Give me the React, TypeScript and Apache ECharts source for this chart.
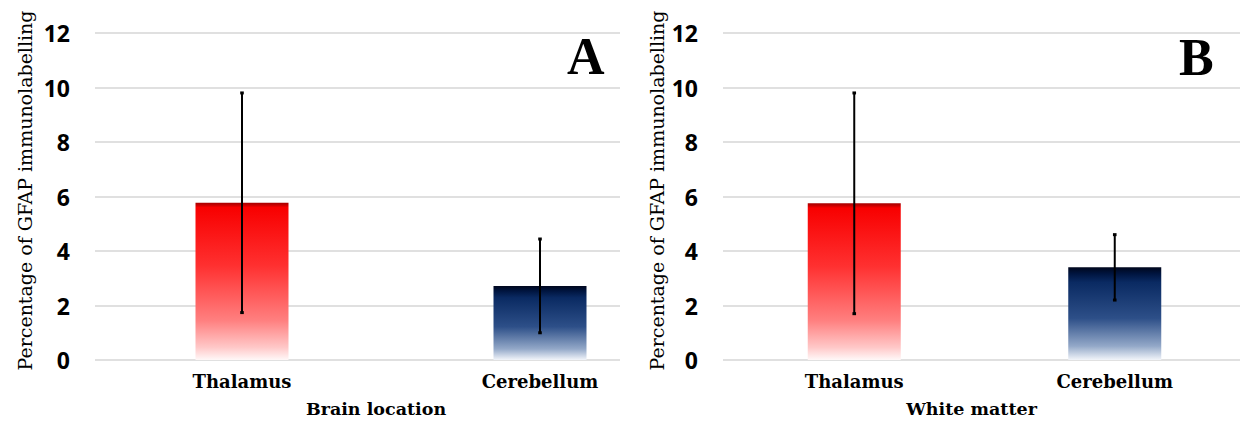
import React, { useEffect, useRef } from "react";
import * as echarts from "echarts";

const categories = ["Thalamus", "Cerebellum"];
const brainMeans = [5.77, 2.72];
const brainSD = [4.03, 1.72];
const whiteMeans = [5.75, 3.4];
const whiteSD = [4.05, 1.2];
const yTicks = { min: 0, max: 12, interval: 2 };
const panelLetters = ["A", "B"];
const xTitles = ["Brain location", "White matter"];
const yTitle = "Percentage of GFAP immunolabelling";

const redGrad = () =>
  new echarts.graphic.LinearGradient(0, 0, 0, 1, [
    { offset: 0, color: "#a80000" },
    { offset: 0.012, color: "#c00000" },
    { offset: 0.03, color: "#f80000" },
    { offset: 0.4, color: "#ff3030" },
    { offset: 0.75, color: "#ff8080" },
    { offset: 0.92, color: "#ffc8c8" },
    { offset: 1, color: "#fff8f8" },
  ]);
const blueGrad = () =>
  new echarts.graphic.LinearGradient(0, 0, 0, 1, [
    { offset: 0, color: "#00061c" },
    { offset: 0.07, color: "#001540" },
    { offset: 0.16, color: "#0a2a62" },
    { offset: 0.55, color: "#2d4f88" },
    { offset: 0.85, color: "#93a8c8" },
    { offset: 1, color: "#f2f5fa" },
  ]);

export default function App() {
  const ref = useRef<HTMLDivElement>(null);
  useEffect(() => {
    if (!ref.current) return;
    const chart = echarts.init(ref.current, undefined, { renderer: "svg" });
    const fills = [redGrad, blueGrad];
    const gridTop = 33;
    const gridH = 327;

    const yLabel = {
      fontFamily: "Open Sans",
      fontWeight: "bold" as const,
      fontSize: 23,
      color: "#000",
      margin: 25,
    };
    const catLabel = {
      fontFamily: "DejaVu Serif",
      fontWeight: "bold" as const,
      fontSize: 18,
      color: "#000",
      margin: 12,
    };
    const split = { show: true, lineStyle: { color: "#d6d6d6", width: 1.6 } };

    const errRender = (params: any, api: any) => {
      const x = api.value(0);
      const lo = api.coord([x, api.value(1)]);
      const hi = api.coord([x, api.value(2)]);
      const cap = 1.8;
      const st = { stroke: "#000", lineWidth: 2 };
      return {
        type: "group",
        children: [
          { type: "line", shape: { x1: lo[0], y1: lo[1], x2: hi[0], y2: hi[1] }, style: st },
          { type: "line", shape: { x1: lo[0] - cap, y1: lo[1], x2: lo[0] + cap, y2: lo[1] }, style: { stroke: "#000", lineWidth: 3 } },
          { type: "line", shape: { x1: hi[0] - cap, y1: hi[1], x2: hi[0] + cap, y2: hi[1] }, style: { stroke: "#000", lineWidth: 3 } },
        ],
      };
    };

    const panels = [
      { means: brainMeans, sd: brainSD, bgLeft: 95, bgW: 525, barLeft: 93, barW: 596, nameGapY: 61, namePad: [0, 30, 0, 0] },
      { means: whiteMeans, sd: whiteSD, bgLeft: 723, bgW: 517, barLeft: 724, barW: 594, nameGapY: 57, namePad: [0, 26, 0, 0] },
    ];

    const grid: any[] = [];
    const xAxis: any[] = [];
    const yAxis: any[] = [];
    const series: any[] = [];

    panels.forEach((p, i) => {
      const bgIdx = i * 2;
      const barIdx = i * 2 + 1;
      grid.push({ left: p.bgLeft, width: p.bgW, top: gridTop, height: gridH });
      grid.push({ left: p.barLeft, width: p.barW, top: gridTop, height: gridH });
      xAxis.push({ type: "category", gridIndex: bgIdx, data: categories, show: false });
      xAxis.push({
        type: "category",
        gridIndex: barIdx,
        data: categories,
        axisLine: { show: false },
        axisTick: { show: false },
        axisLabel: catLabel,
        name: xTitles[i],
        nameLocation: "middle",
        nameGap: 40,
        nameTextStyle: {
          fontFamily: "DejaVu Serif",
          fontWeight: "bold",
          fontSize: 17.5,
          color: "#000",
          padding: p.namePad,
        },
      });
      yAxis.push({
        type: "value",
        gridIndex: bgIdx,
        min: yTicks.min,
        max: yTicks.max,
        interval: yTicks.interval,
        axisLine: { show: false },
        axisTick: { show: false },
        axisLabel: yLabel,
        splitLine: split,
        name: yTitle,
        nameLocation: "middle",
        nameRotate: 90,
        nameGap: p.nameGapY,
        nameTextStyle: {
          fontFamily: "DejaVu Serif",
          fontSize: 19,
          color: "#000",
          padding: [0, 0, 0, 12],
        },
      });
      yAxis.push({
        type: "value",
        gridIndex: barIdx,
        min: yTicks.min,
        max: yTicks.max,
        interval: yTicks.interval,
        show: false,
      });
      series.push({
        type: "bar",
        xAxisIndex: barIdx,
        yAxisIndex: barIdx,
        barWidth: 93,
        data: p.means.map((v, k) => ({ value: v, itemStyle: { color: fills[k]() } })),
        z: 2,
      });
      series.push({
        type: "custom",
        xAxisIndex: barIdx,
        yAxisIndex: barIdx,
        data: p.means.map((v, k) => [k, v - p.sd[k], v + p.sd[k]]),
        renderItem: errRender,
        z: 5,
      });
    });

    chart.setOption({
      animation: false,
      backgroundColor: "#fff",
      grid,
      xAxis,
      yAxis,
      series,
      graphic: [
        {
          type: "text",
          left: 567,
          top: 30,
          style: { text: panelLetters[0], font: "bold 52px 'Liberation Serif'", fill: "#000" },
        },
        {
          type: "text",
          left: 1179,
          top: 31,
          style: { text: panelLetters[1], font: "bold 52px 'Liberation Serif'", fill: "#000" },
        },
      ],
    });
    return () => chart.dispose();
  }, []);
  return (
    <div
      ref={ref}
      style={{ position: "fixed", left: 0, top: 0, width: 1245, height: 427, background: "#fff" }}
    />
  );
}
